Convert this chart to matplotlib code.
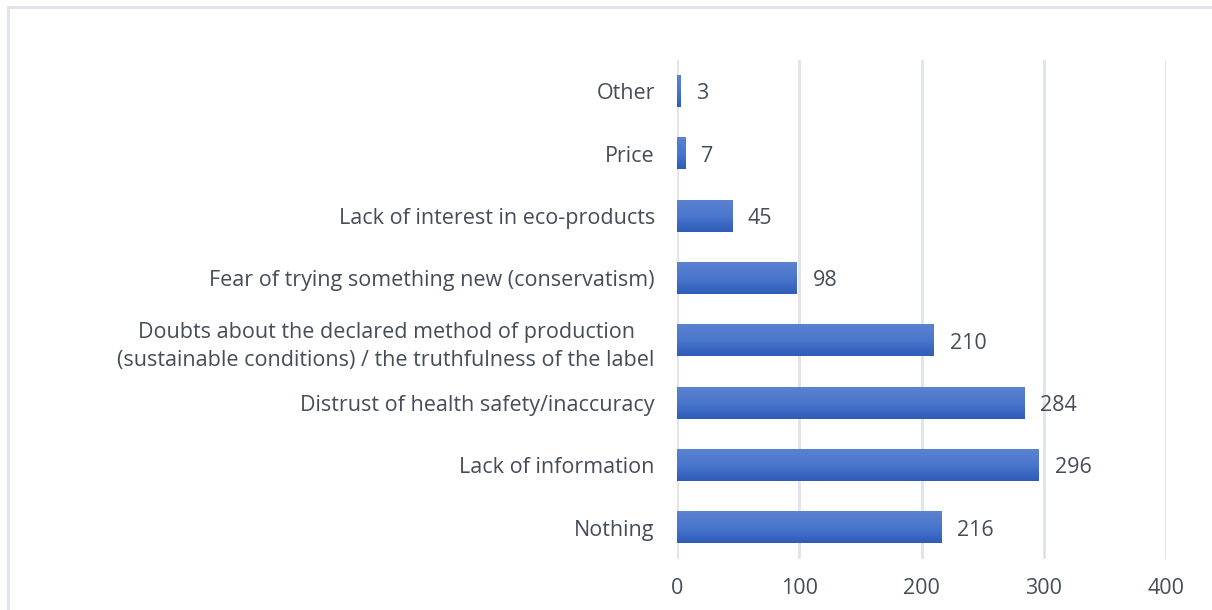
import numpy as np
import matplotlib.pyplot as plt
from matplotlib.colors import LinearSegmentedColormap
from matplotlib.patches import Rectangle

categories = [
    "Nothing",
    "Lack of information",
    "Distrust of health safety/inaccuracy",
    "Doubts about the declared method of production\n(sustainable conditions) / the truthfulness of the label",
    "Fear of trying something new (conservatism)",
    "Lack of interest in eco-products",
    "Price",
    "Other",
]
counts = [216, 296, 284, 210, 98, 45, 7, 3]
xticks = [0, 100, 200, 300, 400]

plt.rcParams['font.family'] = ['Open Sans', 'DejaVu Sans']
txt_color = "#454d59"

fig = plt.figure(figsize=(12.12, 6.10), dpi=100)
# outer chart border (cropped on right/bottom)
fig.patches.append(Rectangle((8 / 1212, -0.1), 1.2, (610 - 7) / 610 + 0.1,
                             transform=fig.transFigure, fill=False,
                             edgecolor="#dfe3ea", linewidth=2))

ax = fig.add_axes([677 / 1212, 1 - 559 / 610, (1166 - 677) / 1212, (559 - 60) / 610])

y = np.arange(len(categories))
bar_h = 0.5
bars = ax.barh(y, counts, height=bar_h, color="#4472c4", edgecolor="none", zorder=2)

# vertical gradient on each bar: lighter top, darker bottom
cmap = LinearSegmentedColormap.from_list("grad", ["#2e5cb8", "#4a76cc", "#5b82d1"])
grad = np.linspace(0, 1, 64).reshape(-1, 1)
for b in bars:
    x0, y0 = b.get_x(), b.get_y()
    w, h = b.get_width(), b.get_height()
    ax.imshow(grad, cmap=cmap, aspect="auto", origin="lower",
              extent=[x0, x0 + w, y0, y0 + h], zorder=3)

for yi, v in zip(y, counts):
    ax.text(v + 13, yi, str(v), va="center_baseline", ha="left",
            fontsize=15.5, color=txt_color)

ax.set_xlim(0, 400)
ax.set_ylim(-0.5, len(categories) - 0.5)
ax.set_xticks(xticks)
ax.set_xticklabels([str(t) for t in xticks], fontsize=15.5, color=txt_color)
ax.set_yticks(y)
ax.set_yticklabels(categories, fontsize=15.5, color=txt_color,
                   multialignment="center", linespacing=1.45)
ax.tick_params(axis="both", length=0)
ax.tick_params(axis="x", pad=14)
ax.tick_params(axis="y", pad=16)
ax.grid(axis="x", color="#dfe3ea", linewidth=2, zorder=0)
for s in ax.spines.values():
    s.set_visible(False)

fig.savefig("out.png", dpi=100)
